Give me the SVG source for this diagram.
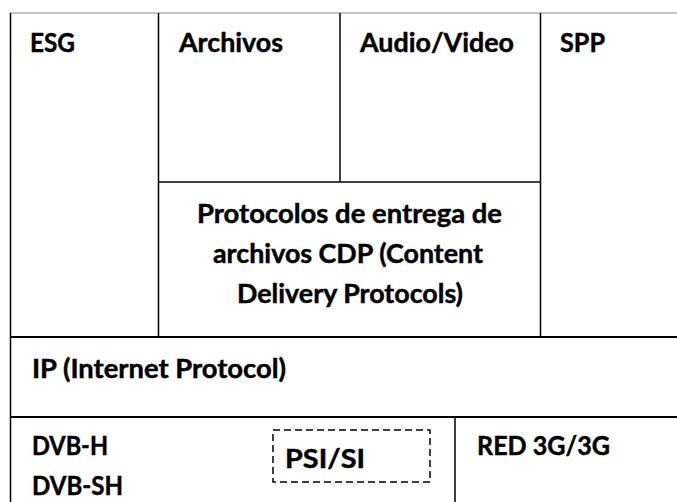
<svg xmlns="http://www.w3.org/2000/svg" width="677" height="502" viewBox="0 0 677 502">
<style>
  .t { font-family: Lato, "Liberation Sans", sans-serif; font-weight: bold; font-size: 26px; fill: #000; stroke: #000; stroke-width: 0.45; }
  .ln { stroke: #000; stroke-width: 1.5; fill: none; }
  .thick { stroke: #000; stroke-width: 2.2; fill: none; }
  .top { stroke: #8a8a8a; stroke-width: 1.2; fill: none; }
  .dash { stroke: #000; stroke-width: 1.5; fill: none; stroke-dasharray: 7 4; }
</style>
<rect width="677" height="502" fill="#fff"/>
<g id="connectors">
  <line class="top" x1="10" y1="13" x2="677" y2="13"/>
  <line class="ln" x1="10.5" y1="13" x2="10.5" y2="502"/>
  <line class="ln" x1="158.5" y1="13" x2="158.5" y2="337"/>
  <line class="ln" x1="340" y1="13" x2="340" y2="182"/>
  <line class="ln" x1="540.5" y1="13" x2="540.5" y2="337"/>
  <line class="ln" x1="158" y1="182" x2="540" y2="182"/>
  <line class="thick" x1="10" y1="337" x2="677" y2="337"/>
  <line class="thick" x1="10" y1="417" x2="677" y2="417"/>
  <line class="ln" x1="455" y1="417" x2="455" y2="502"/>
</g>
<g id="esg"><text class="t" x="30" y="52" textLength="45" lengthAdjust="spacingAndGlyphs">ESG</text></g>
<g id="archivos"><text class="t" x="179" y="52" textLength="104" lengthAdjust="spacingAndGlyphs">Archivos</text></g>
<g id="audiovideo"><text class="t" x="360" y="52" textLength="154" lengthAdjust="spacingAndGlyphs">Audio/Video</text></g>
<g id="spp"><text class="t" x="560" y="52" textLength="45" lengthAdjust="spacingAndGlyphs">SPP</text></g>
<g id="cdp">
  <text class="t" x="197" y="223" textLength="305" lengthAdjust="spacingAndGlyphs">Protocolos de entrega de</text>
  <text class="t" x="213" y="263" textLength="270" lengthAdjust="spacingAndGlyphs">archivos CDP (Content</text>
  <text class="t" x="237" y="303" textLength="226" lengthAdjust="spacingAndGlyphs">Delivery Protocols)</text>
</g>
<g id="ip"><text class="t" x="32" y="378" textLength="254" lengthAdjust="spacingAndGlyphs">IP (Internet Protocol)</text></g>
<g id="dvb">
  <text class="t" x="32" y="455" textLength="76" lengthAdjust="spacingAndGlyphs">DVB-H</text>
  <text class="t" x="32" y="495" textLength="91" lengthAdjust="spacingAndGlyphs">DVB-SH</text>
</g>
<g id="psisi">
  <rect class="dash" x="273" y="430" width="157" height="52"/>
  <text class="t" x="285" y="468" textLength="80" lengthAdjust="spacingAndGlyphs">PSI/SI</text>
</g>
<g id="red3g"><text class="t" x="477" y="455" textLength="133" lengthAdjust="spacingAndGlyphs">RED 3G/3G</text></g>
</svg>
